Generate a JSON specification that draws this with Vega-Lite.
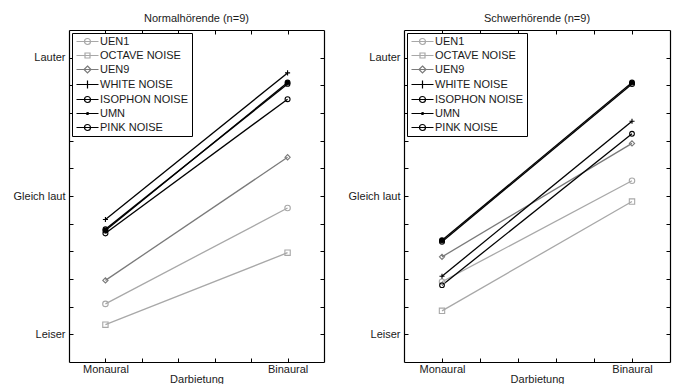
{
  "$schema": "https://vega.github.io/schema/vega-lite/v6.json",
  "background": "white",
  "padding": {"left": 13, "top": 12, "right": 5, "bottom": 0},
  "datasets": {
    "d": [
      {"Gruppe": "Normalhörende (n=9)", "Serie": "UEN1", "Darbietung": "Monaural", "Lautheit": -0.78},
      {"Gruppe": "Normalhörende (n=9)", "Serie": "UEN1", "Darbietung": "Binaural", "Lautheit": -0.087},
      {"Gruppe": "Normalhörende (n=9)", "Serie": "OCTAVE NOISE", "Darbietung": "Monaural", "Lautheit": -0.93},
      {"Gruppe": "Normalhörende (n=9)", "Serie": "OCTAVE NOISE", "Darbietung": "Binaural", "Lautheit": -0.41},
      {"Gruppe": "Normalhörende (n=9)", "Serie": "UEN9", "Darbietung": "Monaural", "Lautheit": -0.61},
      {"Gruppe": "Normalhörende (n=9)", "Serie": "UEN9", "Darbietung": "Binaural", "Lautheit": 0.28},
      {"Gruppe": "Normalhörende (n=9)", "Serie": "WHITE NOISE", "Darbietung": "Monaural", "Lautheit": -0.17},
      {"Gruppe": "Normalhörende (n=9)", "Serie": "WHITE NOISE", "Darbietung": "Binaural", "Lautheit": 0.89},
      {"Gruppe": "Normalhörende (n=9)", "Serie": "ISOPHON NOISE", "Darbietung": "Monaural", "Lautheit": -0.27},
      {"Gruppe": "Normalhörende (n=9)", "Serie": "ISOPHON NOISE", "Darbietung": "Binaural", "Lautheit": 0.70},
      {"Gruppe": "Normalhörende (n=9)", "Serie": "UMN", "Darbietung": "Monaural", "Lautheit": -0.25},
      {"Gruppe": "Normalhörende (n=9)", "Serie": "UMN", "Darbietung": "Binaural", "Lautheit": 0.82},
      {"Gruppe": "Normalhörende (n=9)", "Serie": "PINK NOISE", "Darbietung": "Monaural", "Lautheit": -0.24},
      {"Gruppe": "Normalhörende (n=9)", "Serie": "PINK NOISE", "Darbietung": "Binaural", "Lautheit": 0.81},
      {"Gruppe": "Schwerhörende (n=9)", "Serie": "UEN1", "Darbietung": "Monaural", "Lautheit": -0.62},
      {"Gruppe": "Schwerhörende (n=9)", "Serie": "UEN1", "Darbietung": "Binaural", "Lautheit": 0.11},
      {"Gruppe": "Schwerhörende (n=9)", "Serie": "OCTAVE NOISE", "Darbietung": "Monaural", "Lautheit": -0.83},
      {"Gruppe": "Schwerhörende (n=9)", "Serie": "OCTAVE NOISE", "Darbietung": "Binaural", "Lautheit": -0.04},
      {"Gruppe": "Schwerhörende (n=9)", "Serie": "UEN9", "Darbietung": "Monaural", "Lautheit": -0.44},
      {"Gruppe": "Schwerhörende (n=9)", "Serie": "UEN9", "Darbietung": "Binaural", "Lautheit": 0.38},
      {"Gruppe": "Schwerhörende (n=9)", "Serie": "WHITE NOISE", "Darbietung": "Monaural", "Lautheit": -0.58},
      {"Gruppe": "Schwerhörende (n=9)", "Serie": "WHITE NOISE", "Darbietung": "Binaural", "Lautheit": 0.54},
      {"Gruppe": "Schwerhörende (n=9)", "Serie": "ISOPHON NOISE", "Darbietung": "Monaural", "Lautheit": -0.33},
      {"Gruppe": "Schwerhörende (n=9)", "Serie": "ISOPHON NOISE", "Darbietung": "Binaural", "Lautheit": 0.81},
      {"Gruppe": "Schwerhörende (n=9)", "Serie": "UMN", "Darbietung": "Monaural", "Lautheit": -0.32},
      {"Gruppe": "Schwerhörende (n=9)", "Serie": "UMN", "Darbietung": "Binaural", "Lautheit": 0.82},
      {"Gruppe": "Schwerhörende (n=9)", "Serie": "PINK NOISE", "Darbietung": "Monaural", "Lautheit": -0.645},
      {"Gruppe": "Schwerhörende (n=9)", "Serie": "PINK NOISE", "Darbietung": "Binaural", "Lautheit": 0.45}
    ]
  },
  "bounds": "flush",
  "spacing": 80,
  "hconcat": [
    {
      "width": 255,
      "height": 332,
      "title": "Normalhörende (n=9)",
      "data": {"name": "d"},
      "transform": [{"filter": "datum.Gruppe == 'Normalhörende (n=9)'"}],
      "layer": [
        {
          "mark": {"type": "line", "strokeWidth": 1.3},
          "encoding": {
            "x": {"field": "Darbietung", "type": "ordinal", "sort": null,
              "scale": {"type": "point", "domain": ["Monaural", "t2", "t3", "t4", "t5", "Binaural"], "padding": 1},
              "axis": {"orient": "bottom", "title": "Darbietung", "labelAngle": 0, "tickSize": -4, "labelPadding": 5, "titlePadding": -1,
                "labelExpr": "datum.value == 'Monaural' || datum.value == 'Binaural' ? datum.value : ''"}},
            "y": {"field": "Lautheit", "type": "quantitative",
              "scale": {"domain": [-1.2, 1.2], "nice": false, "zero": false},
              "axis": {"orient": "left", "title": null, "tickSize": -4, "labelPadding": 8,
                "values": [-1, -0.8, -0.6, -0.4, -0.2, 0, 0.2, 0.4, 0.6, 0.8, 1],
                "labelExpr": "datum.value == 1 ? 'Lauter' : datum.value == 0 ? 'Gleich laut' : datum.value == -1 ? 'Leiser' : ''"}},
            "detail": {"field": "Serie"},
            "color": {"field": "Serie", "type": "nominal", "legend": null,
              "scale": {"domain": ["UEN1", "OCTAVE NOISE", "UEN9", "WHITE NOISE", "ISOPHON NOISE", "UMN", "PINK NOISE"],
                "range": ["#a8a8a8", "#a8a8a8", "#7a7a7a", "#000000", "#000000", "#000000", "#000000"]}}
          }
        },
        {
          "mark": {"type": "point", "opacity": 1, "filled": false},
          "encoding": {
            "x": {"field": "Darbietung", "type": "ordinal", "sort": null,
              "scale": {"type": "point", "domain": ["Monaural", "t2", "t3", "t4", "t5", "Binaural"], "padding": 1},
              "axis": {"orient": "top", "title": null, "labels": false, "tickSize": -4}},
            "y": {"field": "Lautheit", "type": "quantitative",
              "scale": {"domain": [-1.2, 1.2], "nice": false, "zero": false},
              "axis": {"orient": "right", "title": null, "labels": false, "tickSize": -4,
                "values": [-1, -0.8, -0.6, -0.4, -0.2, 0, 0.2, 0.4, 0.6, 0.8, 1]}},
            "color": {"field": "Serie", "type": "nominal", "legend": null},
            "fill": {"field": "Serie", "type": "nominal", "legend": null,
              "scale": {"domain": ["UEN1", "OCTAVE NOISE", "UEN9", "WHITE NOISE", "ISOPHON NOISE", "UMN", "PINK NOISE"],
                "range": ["transparent", "transparent", "transparent", "transparent", "transparent", "#000000", "transparent"]}},
            "shape": {"field": "Serie", "type": "nominal", "legend": null,
              "scale": {"domain": ["UEN1", "OCTAVE NOISE", "UEN9", "WHITE NOISE", "ISOPHON NOISE", "UMN", "PINK NOISE"],
                "range": ["circle", "square", "diamond", "M-1,0H1M0,-1V1", "circle", "circle", "circle"]}},
            "size": {"field": "Serie", "type": "nominal", "legend": null,
              "scale": {"domain": ["UEN1", "OCTAVE NOISE", "UEN9", "WHITE NOISE", "ISOPHON NOISE", "UMN", "PINK NOISE"],
                "range": [30, 22, 30, 50, 34, 10, 30]}},
            "strokeWidth": {"field": "Serie", "type": "nominal", "legend": null,
              "scale": {"domain": ["UEN1", "OCTAVE NOISE", "UEN9", "WHITE NOISE", "ISOPHON NOISE", "UMN", "PINK NOISE"],
                "range": [1.1, 1.1, 1.1, 1.3, 1.8, 1.5, 1.4]}}
          }
        },
        {
          "transform": [{"filter": "false"}],
          "mark": {"type": "point", "opacity": 1, "filled": false, "size": 64, "strokeWidth": 1.2},
          "encoding": {
            "x": {"field": "Darbietung", "type": "ordinal", "sort": null, "axis": null,
              "scale": {"type": "point", "domain": ["Monaural", "t2", "t3", "t4", "t5", "Binaural"], "padding": 1}},
            "y": {"field": "Lautheit", "type": "quantitative", "axis": null,
              "scale": {"domain": [-1.2, 1.2], "nice": false, "zero": false}},
            "shape": {"field": "Serie", "type": "nominal",
              "scale": {"domain": ["UEN1", "OCTAVE NOISE", "UEN9", "WHITE NOISE", "ISOPHON NOISE", "UMN", "PINK NOISE"],
                "range": ["M-1,0H4.5M1,0A0.75,0.75 0 1,0 2.5,0A0.75,0.75 0 1,0 1,0", "M-1,0H4.5M1.125,-0.625H2.375V0.625H1.125Z", "M-1,0H4.5M1.75,-0.875L2.625,0L1.75,0.875L0.875,0Z", "M-1,0H4.5M1.75,-1V1", "M-1,0H4.5M1,0A0.75,0.75 0 1,0 2.5,0A0.75,0.75 0 1,0 1,0", "M-1,0H4.5M1.5,0A0.25,0.25 0 1,0 2,0A0.25,0.25 0 1,0 1.5,0", "M-1,0H4.5M1,0A0.75,0.75 0 1,0 2.5,0A0.75,0.75 0 1,0 1,0"]},
              "legend": {"title": null, "orient": "top-left", "offset": 3, "padding": 3, "rowPadding": 2,
                "symbolSize": 64, "symbolStrokeWidth": 1.2, "labelOffset": 14, "symbolFillColor": "transparent",
                "fillColor": "white", "strokeColor": "#000000",
                "labelFont": "Liberation Sans", "labelFontSize": 11, "labelColor": "#1a1a1a"}},
            "stroke": {"field": "Serie", "type": "nominal",
              "scale": {"domain": ["UEN1", "OCTAVE NOISE", "UEN9", "WHITE NOISE", "ISOPHON NOISE", "UMN", "PINK NOISE"],
                "range": ["#a8a8a8", "#a8a8a8", "#7a7a7a", "#000000", "#000000", "#000000", "#000000"]},
              "legend": {"title": null, "orient": "top-left", "offset": 3, "padding": 3, "rowPadding": 2,
                "symbolSize": 64, "symbolStrokeWidth": 1.2, "labelOffset": 14, "symbolFillColor": "transparent",
                "fillColor": "white", "strokeColor": "#000000",
                "labelFont": "Liberation Sans", "labelFontSize": 11, "labelColor": "#1a1a1a"}}
          }
        }
      ],
      "resolve": {"axis": {"x": "independent", "y": "independent"}, "scale": {"shape": "independent", "stroke": "independent"}, "legend": {"shape": "independent", "stroke": "independent"}}
    },
    {
      "width": 266,
      "height": 332,
      "title": "Schwerhörende (n=9)",
      "data": {"name": "d"},
      "transform": [{"filter": "datum.Gruppe == 'Schwerhörende (n=9)'"}],
      "layer": [
        {
          "mark": {"type": "line", "strokeWidth": 1.3},
          "encoding": {
            "x": {"field": "Darbietung", "type": "ordinal", "sort": null,
              "scale": {"type": "point", "domain": ["Monaural", "t2", "t3", "t4", "t5", "Binaural"], "padding": 1},
              "axis": {"orient": "bottom", "title": "Darbietung", "labelAngle": 0, "tickSize": -4, "labelPadding": 5, "titlePadding": -1,
                "labelExpr": "datum.value == 'Monaural' || datum.value == 'Binaural' ? datum.value : ''"}},
            "y": {"field": "Lautheit", "type": "quantitative",
              "scale": {"domain": [-1.2, 1.2], "nice": false, "zero": false},
              "axis": {"orient": "left", "title": null, "tickSize": -4, "labelPadding": 8,
                "values": [-1, -0.8, -0.6, -0.4, -0.2, 0, 0.2, 0.4, 0.6, 0.8, 1],
                "labelExpr": "datum.value == 1 ? 'Lauter' : datum.value == 0 ? 'Gleich laut' : datum.value == -1 ? 'Leiser' : ''"}},
            "detail": {"field": "Serie"},
            "color": {"field": "Serie", "type": "nominal", "legend": null,
              "scale": {"domain": ["UEN1", "OCTAVE NOISE", "UEN9", "WHITE NOISE", "ISOPHON NOISE", "UMN", "PINK NOISE"],
                "range": ["#a8a8a8", "#a8a8a8", "#7a7a7a", "#000000", "#000000", "#000000", "#000000"]}}
          }
        },
        {
          "mark": {"type": "point", "opacity": 1, "filled": false},
          "encoding": {
            "x": {"field": "Darbietung", "type": "ordinal", "sort": null,
              "scale": {"type": "point", "domain": ["Monaural", "t2", "t3", "t4", "t5", "Binaural"], "padding": 1},
              "axis": {"orient": "top", "title": null, "labels": false, "tickSize": -4}},
            "y": {"field": "Lautheit", "type": "quantitative",
              "scale": {"domain": [-1.2, 1.2], "nice": false, "zero": false},
              "axis": {"orient": "right", "title": null, "labels": false, "tickSize": -4,
                "values": [-1, -0.8, -0.6, -0.4, -0.2, 0, 0.2, 0.4, 0.6, 0.8, 1]}},
            "color": {"field": "Serie", "type": "nominal", "legend": null},
            "fill": {"field": "Serie", "type": "nominal", "legend": null,
              "scale": {"domain": ["UEN1", "OCTAVE NOISE", "UEN9", "WHITE NOISE", "ISOPHON NOISE", "UMN", "PINK NOISE"],
                "range": ["transparent", "transparent", "transparent", "transparent", "transparent", "#000000", "transparent"]}},
            "shape": {"field": "Serie", "type": "nominal", "legend": null,
              "scale": {"domain": ["UEN1", "OCTAVE NOISE", "UEN9", "WHITE NOISE", "ISOPHON NOISE", "UMN", "PINK NOISE"],
                "range": ["circle", "square", "diamond", "M-1,0H1M0,-1V1", "circle", "circle", "circle"]}},
            "size": {"field": "Serie", "type": "nominal", "legend": null,
              "scale": {"domain": ["UEN1", "OCTAVE NOISE", "UEN9", "WHITE NOISE", "ISOPHON NOISE", "UMN", "PINK NOISE"],
                "range": [30, 22, 30, 50, 34, 10, 30]}},
            "strokeWidth": {"field": "Serie", "type": "nominal", "legend": null,
              "scale": {"domain": ["UEN1", "OCTAVE NOISE", "UEN9", "WHITE NOISE", "ISOPHON NOISE", "UMN", "PINK NOISE"],
                "range": [1.1, 1.1, 1.1, 1.3, 1.8, 1.5, 1.4]}}
          }
        },
        {
          "transform": [{"filter": "false"}],
          "mark": {"type": "point", "opacity": 1, "filled": false, "size": 64, "strokeWidth": 1.2},
          "encoding": {
            "x": {"field": "Darbietung", "type": "ordinal", "sort": null, "axis": null,
              "scale": {"type": "point", "domain": ["Monaural", "t2", "t3", "t4", "t5", "Binaural"], "padding": 1}},
            "y": {"field": "Lautheit", "type": "quantitative", "axis": null,
              "scale": {"domain": [-1.2, 1.2], "nice": false, "zero": false}},
            "shape": {"field": "Serie", "type": "nominal",
              "scale": {"domain": ["UEN1", "OCTAVE NOISE", "UEN9", "WHITE NOISE", "ISOPHON NOISE", "UMN", "PINK NOISE"],
                "range": ["M-1,0H4.5M1,0A0.75,0.75 0 1,0 2.5,0A0.75,0.75 0 1,0 1,0", "M-1,0H4.5M1.125,-0.625H2.375V0.625H1.125Z", "M-1,0H4.5M1.75,-0.875L2.625,0L1.75,0.875L0.875,0Z", "M-1,0H4.5M1.75,-1V1", "M-1,0H4.5M1,0A0.75,0.75 0 1,0 2.5,0A0.75,0.75 0 1,0 1,0", "M-1,0H4.5M1.5,0A0.25,0.25 0 1,0 2,0A0.25,0.25 0 1,0 1.5,0", "M-1,0H4.5M1,0A0.75,0.75 0 1,0 2.5,0A0.75,0.75 0 1,0 1,0"]},
              "legend": {"title": null, "orient": "top-left", "offset": 3, "padding": 3, "rowPadding": 2,
                "symbolSize": 64, "symbolStrokeWidth": 1.2, "labelOffset": 14, "symbolFillColor": "transparent",
                "fillColor": "white", "strokeColor": "#000000",
                "labelFont": "Liberation Sans", "labelFontSize": 11, "labelColor": "#1a1a1a"}},
            "stroke": {"field": "Serie", "type": "nominal",
              "scale": {"domain": ["UEN1", "OCTAVE NOISE", "UEN9", "WHITE NOISE", "ISOPHON NOISE", "UMN", "PINK NOISE"],
                "range": ["#a8a8a8", "#a8a8a8", "#7a7a7a", "#000000", "#000000", "#000000", "#000000"]},
              "legend": {"title": null, "orient": "top-left", "offset": 3, "padding": 3, "rowPadding": 2,
                "symbolSize": 64, "symbolStrokeWidth": 1.2, "labelOffset": 14, "symbolFillColor": "transparent",
                "fillColor": "white", "strokeColor": "#000000",
                "labelFont": "Liberation Sans", "labelFontSize": 11, "labelColor": "#1a1a1a"}}
          }
        }
      ],
      "resolve": {"axis": {"x": "independent", "y": "independent"}, "scale": {"shape": "independent", "stroke": "independent"}, "legend": {"shape": "independent", "stroke": "independent"}}
    }
  ],
  "resolve": {"scale": {"color": "independent", "stroke": "independent", "fill": "independent", "shape": "independent", "size": "independent", "strokeWidth": "independent"}, "legend": {"color": "independent", "shape": "independent", "stroke": "independent"}},
  "config": {
    "font": "Liberation Sans",
    "view": {"stroke": null},
    "axis": {"labelFont": "Liberation Sans", "labelFontSize": 11, "labelColor": "#1a1a1a", "titleFont": "Liberation Sans", "titleFontSize": 11, "titleFontWeight": "normal", "titleColor": "#1a1a1a", "domainColor": "#000000", "domainWidth": 1.2, "tickColor": "#000000", "grid": false},
    "title": {"font": "Liberation Sans", "fontSize": 11, "fontWeight": "normal", "color": "#1a1a1a", "offset": 6},
    "legend": {"cornerRadius": 0}
  }
}
